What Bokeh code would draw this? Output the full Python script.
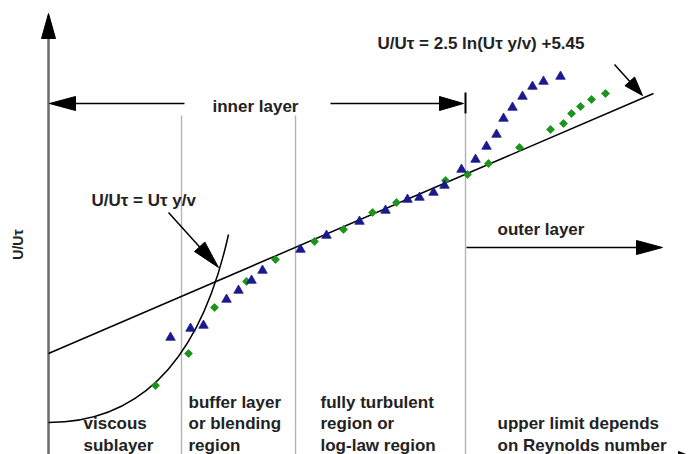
import math
from bokeh.plotting import figure
from bokeh.models import Range1d, ColumnDataSource
from bokeh.core.properties import value
from bokeh.embed import file_html
from bokeh.resources import INLINE

W, H = 699, 454
FONT = value("Liberation Sans")
INK = "#222222"

# Measured velocity profiles (schematic units: x ~ log(y+), y ~ U+)
tri_x = [170, 190, 203, 226, 238, 251, 262, 300, 326, 359, 385, 407, 419, 433,
         444, 461, 475, 486, 496, 503, 512, 522, 532, 543, 560]
tri_y = [117, 126, 129, 155, 164, 174, 184, 205, 219, 233, 244, 255, 257, 262,
         269, 285, 295, 308, 320, 336, 347, 358, 368, 373, 378]

dia_x = [155, 188, 214, 246, 275, 314, 343, 372, 396, 445, 467, 488, 519, 550,
         563, 571, 580, 591, 605]
dia_y = [69, 101, 147, 173, 195, 213, 225, 242, 252, 274, 280, 291, 307, 325,
         331, 341, 348, 355, 361]

# Log-law line end points
loglaw_x = [48, 653]
loglaw_y = [101, 361]

# Region boundaries
region_x = [181, 295, 465]

p = figure(width=W, height=H, x_range=Range1d(0, W), y_range=Range1d(0, H),
           output_backend="svg", toolbar_location=None,
           x_axis_location=None, y_axis_location=None,
           min_border=0, min_border_left=0, min_border_right=0,
           min_border_top=0, min_border_bottom=0,
           outline_line_color=None, background_fill_color="white")
p.grid.grid_line_color = None


def head(tip, frm, length, half):
    """Triangle vertices of an arrow head pointing at tip, coming from frm."""
    dx, dy = tip[0] - frm[0], tip[1] - frm[1]
    n = math.hypot(dx, dy)
    ux, uy = dx / n, dy / n
    bx, by = tip[0] - ux * length, tip[1] - uy * length
    px, py = -uy * half, ux * half
    return [tip[0], bx + px, bx - px], [tip[1], by + py, by - py]


heads_x, heads_y = [], []

# Region boundary lines
p.segment(x0=region_x, y0=[H - 115, H - 115, H - 113], x1=region_x, y1=[0, 0, 0],
          line_color="#b4b4b4", line_width=1.4)

# Vertical axis with arrow
p.segment(x0=[48], y0=[0], x1=[48], y1=[H - 36], line_color="#6a6a6a", line_width=2.5)
hx, hy = head((48, H - 13), (48, 0), 25, 7)
heads_x.append(hx); heads_y.append(hy)

# Horizontal axis (runs along the bottom edge)
hx, hy = head((698, -5), (0, -5), 20, 8)
heads_x.append(hx); heads_y.append(hy)

# Inner layer extent arrow
p.segment(x0=[74, 330], y0=[H - 103, H - 103], x1=[184, 442], y1=[H - 103, H - 103],
          line_color="black", line_width=1.5)
hx, hy = head((49, H - 103), (184, H - 103), 26, 7)
heads_x.append(hx); heads_y.append(hy)
hx, hy = head((463, H - 103), (330, H - 103), 24, 7)
heads_x.append(hx); heads_y.append(hy)
p.segment(x0=[465], y0=[H - 92], x1=[465], y1=[H - 113], line_color="black", line_width=2)

# Outer layer arrow
p.segment(x0=[466], y0=[H - 247], x1=[640], y1=[H - 247], line_color="black", line_width=1.5)
hx, hy = head((662, H - 247), (466, H - 247), 26, 7)
heads_x.append(hx); heads_y.append(hy)

# Pointer to the log-law line
p.segment(x0=[614], y0=[H - 64], x1=[632], y1=[H - 84], line_color="black", line_width=1.5)
hx, hy = head((642, H - 95), (614, H - 64), 19, 6.5)
heads_x.append(hx); heads_y.append(hy)

# Pointer to the viscous sublayer curve
p.segment(x0=[168], y0=[H - 212], x1=[205], y1=[H - 253], line_color="black", line_width=1.5)
hx, hy = head((218, H - 267), (168, H - 212), 28, 7)
heads_x.append(hx); heads_y.append(hy)

p.patches(xs=heads_x, ys=heads_y, fill_color="black", line_color="black", line_width=1)

# Log-law line
p.line(x=loglaw_x, y=loglaw_y, line_color="black", line_width=1.5)

# Viscous sublayer curve U+ = y+
p.bezier(x0=[48], y0=[H - 422], x1=[228], y1=[H - 234],
         cx0=[140], cy0=[H - 422], cx1=[200], cy1=[H - 360],
         line_color="black", line_width=1.5)

# Data points
p.scatter(x=dia_x, y=dia_y, marker="square", size=5.6, angle=math.pi / 4,
          fill_color="#1a961a", line_color="#1a961a", line_width=0.8)
p.scatter(x=tri_x, y=tri_y, marker="triangle", size=9.5,
          fill_color="#1a1a8c", line_color="#1a1a8c", line_width=0.8)

# Labels
labels = ColumnDataSource(dict(
    x=[377, 91, 212, 497,
       83, 83,
       188, 188, 188,
       320, 320, 320,
       497, 497],
    y=[H - 43, H - 200, H - 106, H - 229,
       H - 423, H - 445,
       H - 402, H - 423, H - 445,
       H - 402, H - 423, H - 445,
       H - 423, H - 445],
    text=["U/Uτ = 2.5 ln(Uτ y/v) +5.45", "U/Uτ = Uτ y/v", "inner layer", "outer layer",
          "viscous", "sublayer",
          "buffer layer", "or blending", "region",
          "fully turbulent", "region or", "log-law region",
          "upper limit depends", "on Reynolds number"],
))
p.text(x="x", y="y", text="text", source=labels, text_font=FONT, text_font_style="bold",
       text_font_size="17px", text_color=INK, text_align="left", text_baseline="middle")

p.text(x=[17], y=[H - 244], text=["U/Uτ"], angle=math.pi / 2, text_font=FONT,
       text_font_style="bold", text_font_size="14px", text_color=INK,
       text_align="center", text_baseline="middle")

open("out.html", "w").write(file_html(p, INLINE))
